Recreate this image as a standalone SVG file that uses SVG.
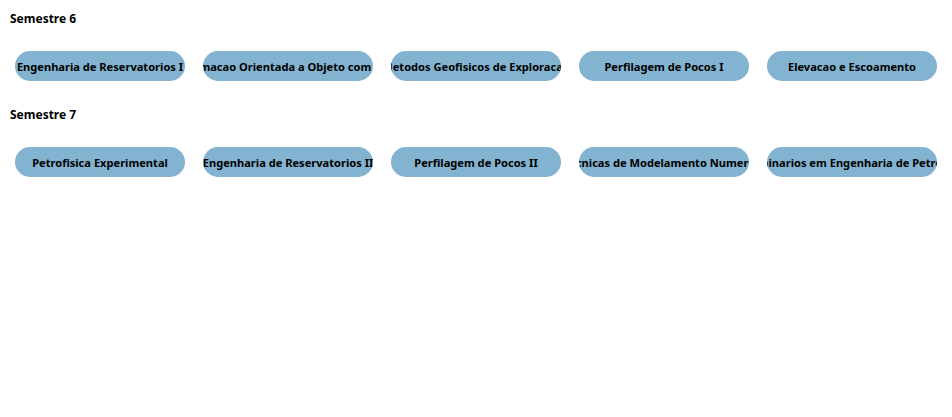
<svg xmlns="http://www.w3.org/2000/svg" width="952" height="417" viewBox="0 0 952 417">
<style>
.pill{fill:#82b3d0}
.lbl{font-family:"Noto Sans","Liberation Sans",sans-serif;font-weight:bold;font-size:11.1px;fill:#000;text-anchor:middle}
.hdr{font-family:"Noto Sans","Liberation Sans",sans-serif;font-weight:bold;font-size:12px;fill:#000}
</style>
<defs>
<rect id="p" width="170" height="30" rx="15" ry="15"/>
<clipPath id="c1"><rect x="15" y="51" width="170" height="30" rx="15"/></clipPath>
<clipPath id="c2"><rect x="203" y="51" width="170" height="30" rx="15"/></clipPath>
<clipPath id="c3"><rect x="391" y="51" width="170" height="30" rx="15"/></clipPath>
<clipPath id="c4"><rect x="579" y="51" width="170" height="30" rx="15"/></clipPath>
<clipPath id="c5"><rect x="767" y="51" width="170" height="30" rx="15"/></clipPath>
<clipPath id="d1"><rect x="15" y="147" width="170" height="30" rx="15"/></clipPath>
<clipPath id="d2"><rect x="203" y="147" width="170" height="30" rx="15"/></clipPath>
<clipPath id="d3"><rect x="391" y="147" width="170" height="30" rx="15"/></clipPath>
<clipPath id="d4"><rect x="579" y="147" width="170" height="30" rx="15"/></clipPath>
<clipPath id="d5"><rect x="767" y="147" width="170" height="30" rx="15"/></clipPath>
</defs>
<rect width="952" height="417" fill="#fff"/>
<text class="hdr" x="10" y="23">Semestre 6</text>
<text class="hdr" x="10" y="119">Semestre 7</text>
<g id="s6n1"><use href="#p" x="15" y="51" class="pill"/><text class="lbl" x="100" y="70.5" clip-path="url(#c1)">Engenharia de Reservatorios I</text></g>
<g id="s6n2"><use href="#p" x="203" y="51" class="pill"/><text class="lbl" x="288" y="70.5" clip-path="url(#c2)">Programacao Orientada a Objeto com Python</text></g>
<g id="s6n3"><use href="#p" x="391" y="51" class="pill"/><text class="lbl" x="476" y="70.5" clip-path="url(#c3)">Metodos Geofisicos de Exploracao</text></g>
<g id="s6n4"><use href="#p" x="579" y="51" class="pill"/><text class="lbl" x="664" y="70.5" clip-path="url(#c4)">Perfilagem de Pocos I</text></g>
<g id="s6n5"><use href="#p" x="767" y="51" class="pill"/><text class="lbl" x="852" y="70.5" clip-path="url(#c5)">Elevacao e Escoamento</text></g>
<g id="s7n1"><use href="#p" x="15" y="147" class="pill"/><text class="lbl" x="100" y="166.5" clip-path="url(#d1)">Petrofisica Experimental</text></g>
<g id="s7n2"><use href="#p" x="203" y="147" class="pill"/><text class="lbl" x="288" y="166.5" clip-path="url(#d2)">Engenharia de Reservatorios II</text></g>
<g id="s7n3"><use href="#p" x="391" y="147" class="pill"/><text class="lbl" x="476" y="166.5" clip-path="url(#d3)">Perfilagem de Pocos II</text></g>
<g id="s7n4"><use href="#p" x="579" y="147" class="pill"/><text class="lbl" x="664" y="166.5" clip-path="url(#d4)">Tecnicas de Modelamento Numerico</text></g>
<g id="s7n5"><use href="#p" x="767" y="147" class="pill"/><text class="lbl" x="852" y="166.5" clip-path="url(#d5)">Seminarios em Engenharia de Petroleo</text></g>
<g id="connectors"></g>
</svg>
